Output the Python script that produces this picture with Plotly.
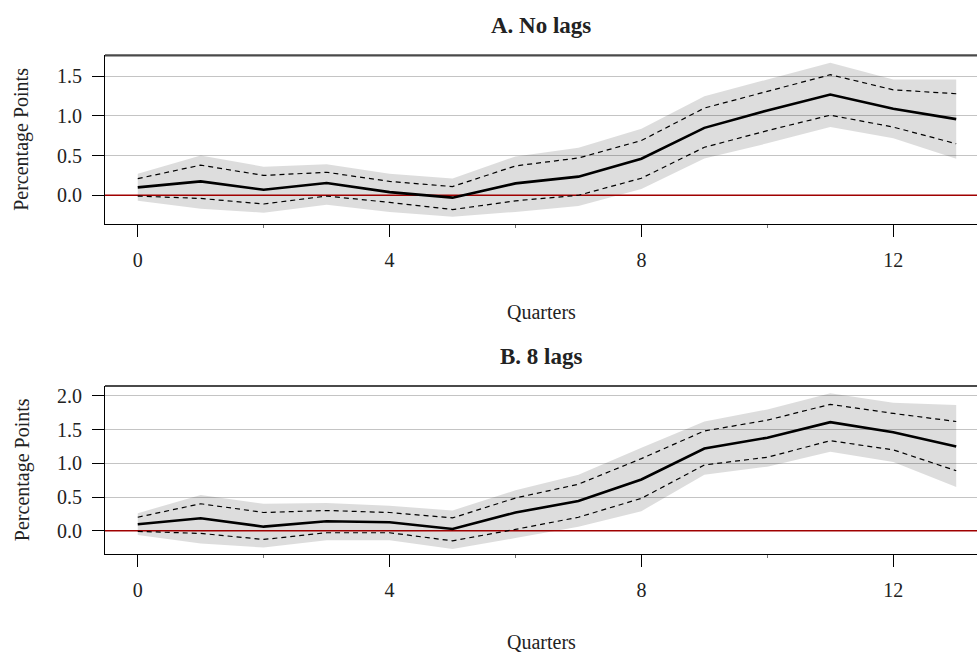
import plotly.graph_objects as go

# Impulse responses (percentage points) by quarter, with 68% (dashed) and 90% (shaded) bands
quarters = list(range(14))

nolag_mean = [0.10, 0.175, 0.07, 0.155, 0.04, -0.03, 0.15, 0.235, 0.46, 0.85, 1.07, 1.27, 1.09, 0.96]
nolag_hi68 = [0.21, 0.38, 0.25, 0.29, 0.175, 0.11, 0.37, 0.47, 0.69, 1.10, 1.31, 1.52, 1.33, 1.28]
nolag_lo68 = [-0.01, -0.04, -0.11, -0.01, -0.09, -0.18, -0.07, 0.00, 0.215, 0.605, 0.815, 1.01, 0.86, 0.65]
nolag_hi90 = [0.27, 0.50, 0.36, 0.39, 0.27, 0.21, 0.49, 0.60, 0.84, 1.25, 1.46, 1.67, 1.46, 1.46]
nolag_lo90 = [-0.07, -0.17, -0.22, -0.12, -0.21, -0.27, -0.21, -0.135, 0.08, 0.465, 0.655, 0.86, 0.72, 0.46]

lag8_mean = [0.095, 0.185, 0.06, 0.14, 0.125, 0.025, 0.27, 0.44, 0.76, 1.22, 1.38, 1.61, 1.46, 1.25]
lag8_hi68 = [0.20, 0.40, 0.27, 0.30, 0.27, 0.19, 0.485, 0.69, 1.07, 1.48, 1.64, 1.875, 1.74, 1.62]
lag8_lo68 = [-0.01, -0.04, -0.13, -0.03, -0.03, -0.15, 0.02, 0.20, 0.48, 0.975, 1.09, 1.335, 1.20, 0.89]
lag8_hi90 = [0.26, 0.53, 0.40, 0.41, 0.37, 0.30, 0.60, 0.83, 1.23, 1.62, 1.80, 2.04, 1.90, 1.865]
lag8_lo90 = [-0.065, -0.19, -0.25, -0.14, -0.14, -0.27, -0.11, 0.06, 0.29, 0.83, 0.95, 1.17, 1.02, 0.65]

x_ticks = [0, 4, 8, 12]
x_minor = [2, 6, 10]
yticks_a = [0.0, 0.5, 1.0, 1.5]
yticks_b = [0.0, 0.5, 1.0, 1.5, 2.0]

panel_titles = ["A. No lags", "B. 8 lags"]

W, H = 977, 652
FONT = "Liberation Serif"
X_RANGE = [-0.52, 13.33]

fig = go.Figure()

panels = [
    (nolag_mean, nolag_hi68, nolag_lo68, nolag_hi90, nolag_lo90, "x", "y"),
    (lag8_mean, lag8_hi68, lag8_lo68, lag8_hi90, lag8_lo90, "x2", "y2"),
]

for mean, hi68, lo68, hi90, lo90, xa, ya in panels:
    # shaded 90% band
    fig.add_trace(go.Scatter(x=quarters, y=lo90, mode="lines", line=dict(width=0),
                             xaxis=xa, yaxis=ya, showlegend=False, hoverinfo="skip"))
    fig.add_trace(go.Scatter(x=quarters, y=hi90, mode="lines", line=dict(width=0),
                             fill="tonexty", fillcolor="rgba(0,0,0,0.135)",
                             xaxis=xa, yaxis=ya, showlegend=False, hoverinfo="skip"))
    # zero reference line
    fig.add_trace(go.Scatter(x=X_RANGE, y=[0, 0], mode="lines",
                             line=dict(color="#a00000", width=1.6),
                             xaxis=xa, yaxis=ya, showlegend=False, hoverinfo="skip"))
    # 68% bounds
    for band in (hi68, lo68):
        fig.add_trace(go.Scatter(x=quarters, y=band, mode="lines",
                                 line=dict(color="black", width=1.2, dash="5px,4px"),
                                 xaxis=xa, yaxis=ya, showlegend=False))
    # point estimate
    fig.add_trace(go.Scatter(x=quarters, y=mean, mode="lines",
                             line=dict(color="black", width=2.6),
                             xaxis=xa, yaxis=ya, showlegend=False))

def px_y(py):
    return 1 - py / H

x_dom = [105 / W, 1.0]
y_dom_a = [px_y(224.3), px_y(55.3)]
y_dom_b = [px_y(554.3), px_y(386)]

xaxis_common = dict(
    domain=x_dom, range=X_RANGE, tickmode="array", tickvals=x_ticks,
    ticks="outside", ticklen=12, tickwidth=1, tickcolor="black",
    showline=True, linecolor="black", linewidth=1.2, showgrid=False, zeroline=False,
    tickfont=dict(family=FONT, size=20, color="#222"),
    ticklabelstandoff=6,
    minor=dict(tickmode="array", tickvals=x_minor, ticks="outside", ticklen=3,
               tickcolor="#777", tickwidth=1, showgrid=False),
)
yaxis_common = dict(
    tickmode="array", ticks="outside", ticklen=12, tickwidth=1, tickcolor="black",
    showline=True, linecolor="black", linewidth=1.2, zeroline=False,
    showgrid=True, gridcolor="#c4c4c4", gridwidth=1.2,
    tickfont=dict(family=FONT, size=20, color="#222"),
    ticklabelstandoff=6,
)

fig.update_layout(
    width=W, height=H, margin=dict(l=0, r=0, t=0, b=0),
    paper_bgcolor="white", plot_bgcolor="white",
    font=dict(family=FONT, size=20, color="#222"),
    xaxis=dict(**xaxis_common, anchor="y"),
    yaxis=dict(**yaxis_common, domain=y_dom_a, range=[-0.366, 1.765],
               tickvals=yticks_a, ticktext=[f"{v:.1f}" for v in yticks_a], anchor="x"),
    xaxis2=dict(**xaxis_common, anchor="y2"),
    yaxis2=dict(**yaxis_common, domain=y_dom_b, range=[-0.35, 2.147],
                tickvals=yticks_b, ticktext=[f"{v:.1f}" for v in yticks_b], anchor="x2"),
)

# top frame edges of each panel
for yd in (y_dom_a, y_dom_b):
    fig.add_shape(type="line", xref="paper", yref="paper", x0=x_dom[0], x1=1.0,
                  y0=yd[1], y1=yd[1], line=dict(color="#4a4a4a", width=2.2))

cx = (x_dom[0] + x_dom[1]) / 2
annotations = [
    dict(text=f"<b>{panel_titles[0]}</b>", x=cx, y=px_y(26), font=dict(size=23)),
    dict(text="Quarters", x=cx, y=px_y(312)),
    dict(text=f"<b>{panel_titles[1]}</b>", x=cx, y=px_y(357), font=dict(size=23)),
    dict(text="Quarters", x=cx, y=px_y(642)),
    dict(text="Percentage Points", x=22 / W, y=(y_dom_a[0] + y_dom_a[1]) / 2, textangle=-90),
    dict(text="Percentage Points", x=22 / W, y=(y_dom_b[0] + y_dom_b[1]) / 2, textangle=-90),
]
for a in annotations:
    fig.add_annotation(xref="paper", yref="paper", showarrow=False,
                       xanchor="center", yanchor="middle", **a)

fig.write_html("out.html")
